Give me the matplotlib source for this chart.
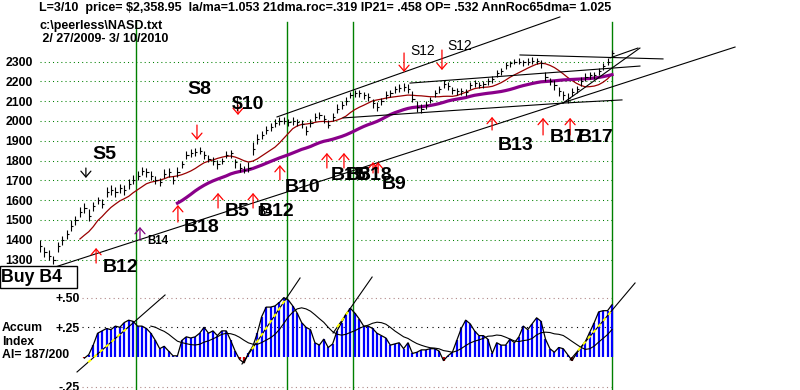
import matplotlib
matplotlib.use('Agg')
import matplotlib.pyplot as plt
import numpy as np
import pandas as pd
from matplotlib.patches import Rectangle

plt.rcParams['font.family'] = ['Liberation Sans', 'DejaVu Sans']

# ---------------- data ----------------
# price bars, one bar per two trading days, day 0 = 2/27/2009, last = 3/10/2010
closes = [1370, 1340, 1320, 1295, 1370, 1400, 1430, 1470, 1500, 1540,
          1560, 1520, 1570, 1600, 1580, 1640, 1650, 1640, 1660, 1650,
          1680, 1700, 1720, 1745, 1740, 1720, 1700, 1690, 1730, 1740,
          1700, 1740, 1780, 1830, 1840, 1845, 1850, 1830, 1810, 1800,
          1780, 1800, 1830, 1840, 1790, 1760, 1750, 1760, 1860, 1910,
          1930, 1955, 1970, 1990, 2000, 2000, 1995, 2000, 1995, 1985,
          1950, 1990, 2020, 2030, 2010, 1980, 2020, 2060, 2080, 2100,
          2130, 2140, 2140, 2130, 2120, 2090, 2070, 2100, 2130, 2140,
          2160, 2165, 2170, 2160, 2110, 2070, 2060, 2080, 2105, 2140,
          2160, 2185, 2175, 2155, 2150, 2150, 2145, 2180, 2190, 2180,
          2185, 2200, 2210, 2240, 2250, 2280, 2290, 2300, 2300, 2295,
          2300, 2305, 2305, 2290, 2220, 2200, 2180, 2150, 2130, 2115,
          2145, 2160, 2200, 2220, 2230, 2230, 2250, 2275, 2300, 2345]
highs = [1400, 1365, 1350, 1320, 1390, 1420, 1450, 1500, 1520, 1565,
         1585, 1555, 1590, 1615, 1605, 1665, 1675, 1665, 1680, 1675,
         1705, 1725, 1745, 1765, 1760, 1745, 1720, 1710, 1755, 1760,
         1720, 1765, 1800, 1850, 1860, 1862, 1868, 1850, 1830, 1820,
         1805, 1815, 1850, 1855, 1810, 1785, 1770, 1790, 1895, 1935,
         1950, 1975, 1990, 2010, 2018, 2020, 2012, 2018, 2012, 2005,
         1975, 2010, 2040, 2045, 2030, 2005, 2040, 2085, 2100, 2120,
         2148, 2155, 2158, 2145, 2140, 2110, 2095, 2115, 2150, 2158,
         2175, 2185, 2190, 2185, 2150, 2100, 2085, 2100, 2120, 2155,
         2175, 2205, 2195, 2172, 2165, 2168, 2160, 2198, 2205, 2195,
         2200, 2218, 2225, 2255, 2268, 2295, 2305, 2315, 2318, 2310,
         2318, 2322, 2320, 2308, 2245, 2218, 2205, 2170, 2150, 2140,
         2165, 2178, 2220, 2240, 2245, 2248, 2268, 2292, 2320, 2360]
lows = [1340, 1315, 1300, 1275, 1340, 1375, 1405, 1445, 1475, 1515,
        1535, 1495, 1545, 1580, 1560, 1615, 1625, 1615, 1635, 1625,
        1655, 1680, 1700, 1725, 1718, 1700, 1680, 1670, 1710, 1718,
        1680, 1718, 1760, 1810, 1820, 1825, 1832, 1808, 1790, 1778,
        1755, 1780, 1812, 1815, 1760, 1740, 1735, 1740, 1830, 1885,
        1910, 1935, 1950, 1970, 1980, 1982, 1975, 1980, 1975, 1962,
        1930, 1968, 1998, 2010, 1988, 1962, 2000, 2040, 2060, 2080,
        2115, 2122, 2120, 2110, 2098, 2065, 2050, 2082, 2110, 2120,
        2140, 2148, 2150, 2140, 2095, 2045, 2040, 2060, 2088, 2120,
        2142, 2165, 2158, 2138, 2132, 2130, 2128, 2160, 2172, 2165,
        2168, 2182, 2192, 2222, 2232, 2262, 2272, 2285, 2285, 2278,
        2282, 2288, 2288, 2265, 2200, 2180, 2158, 2128, 2108, 2090,
        2125, 2140, 2178, 2202, 2212, 2212, 2232, 2255, 2282, 2330]

# accumulation index, every two trading days starting day 20
ai_values = [-0.01, 0.02, 0.10, 0.20, 0.22, 0.24, 0.23, 0.26, 0.25, 0.29,
             0.31, 0.30, 0.26, 0.26, 0.24, 0.20, 0.14, 0.07, 0.09, 0.05,
             0.01, 0.01, 0.14, 0.17, 0.16, 0.17, 0.20, 0.25, 0.20, 0.22,
             0.18, 0.22, 0.22, 0.14, 0.05, -0.02, -0.05, 0.03, 0.09, 0.20,
             0.34, 0.42, 0.42, 0.43, 0.46, 0.50, 0.48, 0.43, 0.37, 0.29,
             0.25, 0.23, 0.12, 0.10, 0.15, 0.08, 0.11, 0.22, 0.29, 0.36,
             0.41, 0.37, 0.32, 0.26, 0.26, 0.24, 0.20, 0.18, 0.16, 0.10,
             0.11, 0.12, 0.07, 0.12, 0.03, 0.04, 0.06, 0.06, 0.07, 0.07,
             0.05, -0.03, 0.01, 0.04, 0.14, 0.24, 0.31, 0.28, 0.22, 0.18,
             0.18, 0.15, 0.03, 0.12, 0.10, 0.10, 0.15, 0.12, 0.17, 0.26,
             0.23, 0.28, 0.33, 0.30, 0.15, 0.07, 0.04, 0.08, 0.07, 0.02,
             -0.03, 0.03, 0.08, 0.13, 0.21, 0.29, 0.38, 0.39, 0.39, 0.44]
ai_first_day = 20
bar_step = 2

price_levels = list(range(1300, 2400, 100))
marker_days = [43.2, 111.6, 141.4, 258.0]   # green vertical lines

# trend lines in (day, price)
price_trendlines = [
    ((6.8, 1262), (313.5, 2373)),
    ((106.9, 2020), (234.5, 2525)),
    ((136.7, 2015), (235.9, 2090)),
    ((235.9, 2090), (262.5, 2106)),
    ((235.9, 2090), (270.6, 2368)),
    ((166.9, 2191), (270.6, 2277)),
    ((216.5, 2333), (281.0, 2313)),
    ((257.1, 2318), (269.7, 2368)),
]
# trend lines in (day, AI value) with the part shown in yellow (day range)
ai_trendlines = [
    ((16.7, -0.126), (56.4, 0.522), (21.7, 39.7)),
    ((91.1, -0.059), (117.3, 0.665), (95.6, 110.5)),
    ((132.2, 0.202), (149.8, 0.673), (134.0, 138.9)),
    ((239.1, -0.025), (268.4, 0.623), (242.7, 258.0)),
]

# signals: (day, tail price, tip price, colour)
signal_arrows = [
    (25.3, 1282, 1358, 'red'), (45.1, 1398, 1464, 'purple'),
    (62.2, 1489, 1575, 'red'), (80.3, 1560, 1636, 'red'),
    (96.1, 1560, 1636, 'red'), (108.2, 1702, 1777, 'red'),
    (129.4, 1762, 1838, 'red'), (137.1, 1762, 1838, 'red'),
    (150.2, 1737, 1792, 'red'), (152.5, 1737, 1792, 'red'),
    (164.2, 2343, 2247, 'red'), (181.3, 2358, 2257, 'red'),
    (203.9, 1954, 2020, 'red'), (226.9, 1929, 2015, 'red'),
    (239.1, 1929, 2015, 'red'), (70.8, 1979, 1904, 'red'),
    (89.3, 2080, 2030, 'red'), (20.7, 1762, 1712, 'black'),
]
# signal labels: (text, left px, centre py, size, weight)
signal_labels = [
    ('S5', 92, 155, 14, 'bold'), ('S8', 187, 90, 14, 'bold'),
    ('$10', 232, 105, 14, 'bold'), ('B12', 103, 268, 14, 'bold'),
    ('B14', 147, 241, 8.3, 'bold'), ('B18', 184, 228, 14, 'bold'),
    ('B5', 225, 212, 14, 'bold'), ('B4', 257, 212, 8.3, 'bold'),
    ('B12', 259, 212, 14, 'bold'), ('B10', 285, 188, 14, 'bold'),
    ('B15', 331, 175, 14, 'bold'), ('B5', 346, 175, 14, 'bold'),
    ('B18', 357, 175, 14, 'bold'), ('B9', 382, 185, 14, 'bold'),
    ('S12', 410, 51, 10, 'normal'), ('S12', 447, 46, 10, 'normal'),
    ('B13', 498, 146, 14, 'bold'), ('B17', 550, 138, 14, 'bold'),
    ('B17', 578, 138, 14, 'bold'),
]

# ---------------- layout helpers ----------------
W, H = 800, 390
X0, DPX = 40, 572 / 258.0


def price_at(py):
    return 2300 - (py - 61.5) * 100 / 19.8


def ai_at(py):
    return (357 - py) / 118.8


def px2day(px):
    return (px - X0) / DPX


fig = plt.figure(figsize=(W / 100, H / 100), dpi=100)
fig.patch.set_facecolor('white')

axp = fig.add_axes([X0 / W, 1 - 270 / H, (W - X0) / W, 270 / H])
axp.set_xlim(0, px2day(W))
axp.set_ylim(price_at(270), price_at(0))
axa = fig.add_axes([82 / W, 0, (W - 82) / W, 120 / H])
axa.set_xlim(px2day(82), px2day(W))
axa.set_ylim(ai_at(390), ai_at(270))
for ax in (axp, axa):
    ax.patch.set_visible(False)
    for s in ax.spines.values():
        s.set_visible(False)
    ax.set_xticks([])
    ax.tick_params(axis='y', length=0)

last_day = bar_step * (len(closes) - 1)

# price grid
axp.hlines(price_levels, 0, last_day, colors='#008000', lw=0.75,
           linestyles=(0, (1, 3)), zorder=1)
axp.set_yticks(price_levels)
axp.set_yticklabels([str(v) for v in price_levels], fontsize=8.8,
                    fontweight='bold')
axp.tick_params(axis='y', pad=5)

# green vertical lines
for d in marker_days:
    axp.axvline(d, ymin=0, ymax=1 - 22 / 270, color='#008000', lw=1.0, zorder=2)
    axa.axvline(d, color='#008000', lw=1.0, zorder=2)

# price bars
bar_days = np.arange(len(closes)) * bar_step
axp.vlines(bar_days, lows, highs, colors='black', lw=0.8, zorder=4)
axp.hlines(closes, bar_days, bar_days + 1.0, colors='black', lw=0.8, zorder=4)

cs = pd.Series(closes, index=bar_days)
ma21 = cs.rolling(10).mean()
ma65 = cs.rolling(32).mean()
axp.plot(ma21.index, ma21.values, color='#990000', lw=0.9, zorder=3)
axp.plot(ma65.index, ma65.values, color='#8a008a', lw=2.3, zorder=3)

for (d0, p0), (d1, p1) in price_trendlines:
    axp.plot([d0, d1], [p0, p1], color='black', lw=0.8, zorder=3, clip_on=False)

for d, tail, tip, col in signal_arrows:
    axp.annotate('', xy=(d, tip), xytext=(d, tail),
                 arrowprops=dict(arrowstyle='->,head_length=0.35,head_width=0.3',
                                 color=col, lw=0.9, mutation_scale=12,
                                 shrinkA=0, shrinkB=0), zorder=5)

for txt, px, py, sz, wt in signal_labels:
    axp.text(px2day(px), price_at(py), txt, fontsize=sz, fontweight=wt,
             ha='left', va='center', color='black', zorder=6, clip_on=False)

# Buy B4 box
fig.patches.append(Rectangle((0, 1 - 288 / H), 77 / W, 22 / H,
                             transform=fig.transFigure, facecolor='white',
                             edgecolor='black', lw=1.0, zorder=7))
fig.text(1 / W, 1 - 277 / H, 'Buy B4', fontsize=12.8, fontweight='bold',
         ha='left', va='center', zorder=8)

# header
fig.text(39 / W, 1 - 11 / H,
         'L=3/10  price= $2,358.95  la/ma=1.053 21dma.roc=.319 IP21= .458 OP= .532 AnnRoc65dma= 1.025',
         fontsize=9.0, fontweight='bold', ha='left', va='baseline')
fig.text(39 / W, 1 - 29.5 / H, 'c:\\peerless\\NASD.txt', fontsize=9.0,
         fontweight='bold', ha='left', va='baseline')
fig.text(39 / W, 1 - 41.7 / H, ' 2/ 27/2009- 3/ 10/2010', fontsize=9.0,
         fontweight='bold', ha='left', va='baseline')

# ---------------- accumulation index ----------------
ai_days = ai_first_day + np.arange(len(ai_values)) * bar_step
ai_arr = np.array(ai_values)
axa.hlines([0.5, -0.25], px2day(82), last_day, colors='#b08888', lw=0.8,
           linestyles=(0, (1, 3)), zorder=1)
axa.hlines([0.25], px2day(82), last_day, colors='black', lw=0.8,
           linestyles=(0, (1, 4)), zorder=1)
cols = ['#d00000' if v < 0 else '#0000ff' for v in ai_values]
axa.vlines(ai_days, 0, ai_arr, colors=cols, lw=1.6, zorder=3)
axa.plot(ai_days, ai_arr, color='black', lw=0.9, zorder=4)
ai_ma = pd.Series(ai_values, index=ai_days).rolling(10).mean().iloc[15:]
axa.plot(ai_ma.index, ai_ma.values, color='black', lw=0.8, zorder=4)

for (d0, v0), (d1, v1), (ya, yb) in ai_trendlines:
    axa.plot([d0, d1], [v0, v1], color='black', lw=0.8, zorder=4, clip_on=False)
    slope = (v1 - v0) / (d1 - d0)
    axa.plot([ya, yb], [v0 + slope * (ya - d0), v0 + slope * (yb - d0)],
             color='#ffff00', lw=1.4, linestyle=(0, (2, 2)), zorder=5)

axa.set_yticks([0.5, 0.25, -0.25])
axa.set_yticklabels(['+.50', '+.25', '-.25'], fontsize=8.8, fontweight='bold')
axa.tick_params(axis='y', pad=1.5)

fig.text(2 / W, 1 - 328 / H, 'Accum', fontsize=8.8, fontweight='bold',
         ha='left', va='center')
fig.text(2 / W, 1 - 342 / H, 'Index', fontsize=8.8, fontweight='bold',
         ha='left', va='center')
fig.text(2 / W, 1 - 355 / H, 'AI= 187/200', fontsize=8.8, fontweight='bold',
         ha='left', va='center')

fig.savefig('out.png', dpi=100, facecolor='white')
